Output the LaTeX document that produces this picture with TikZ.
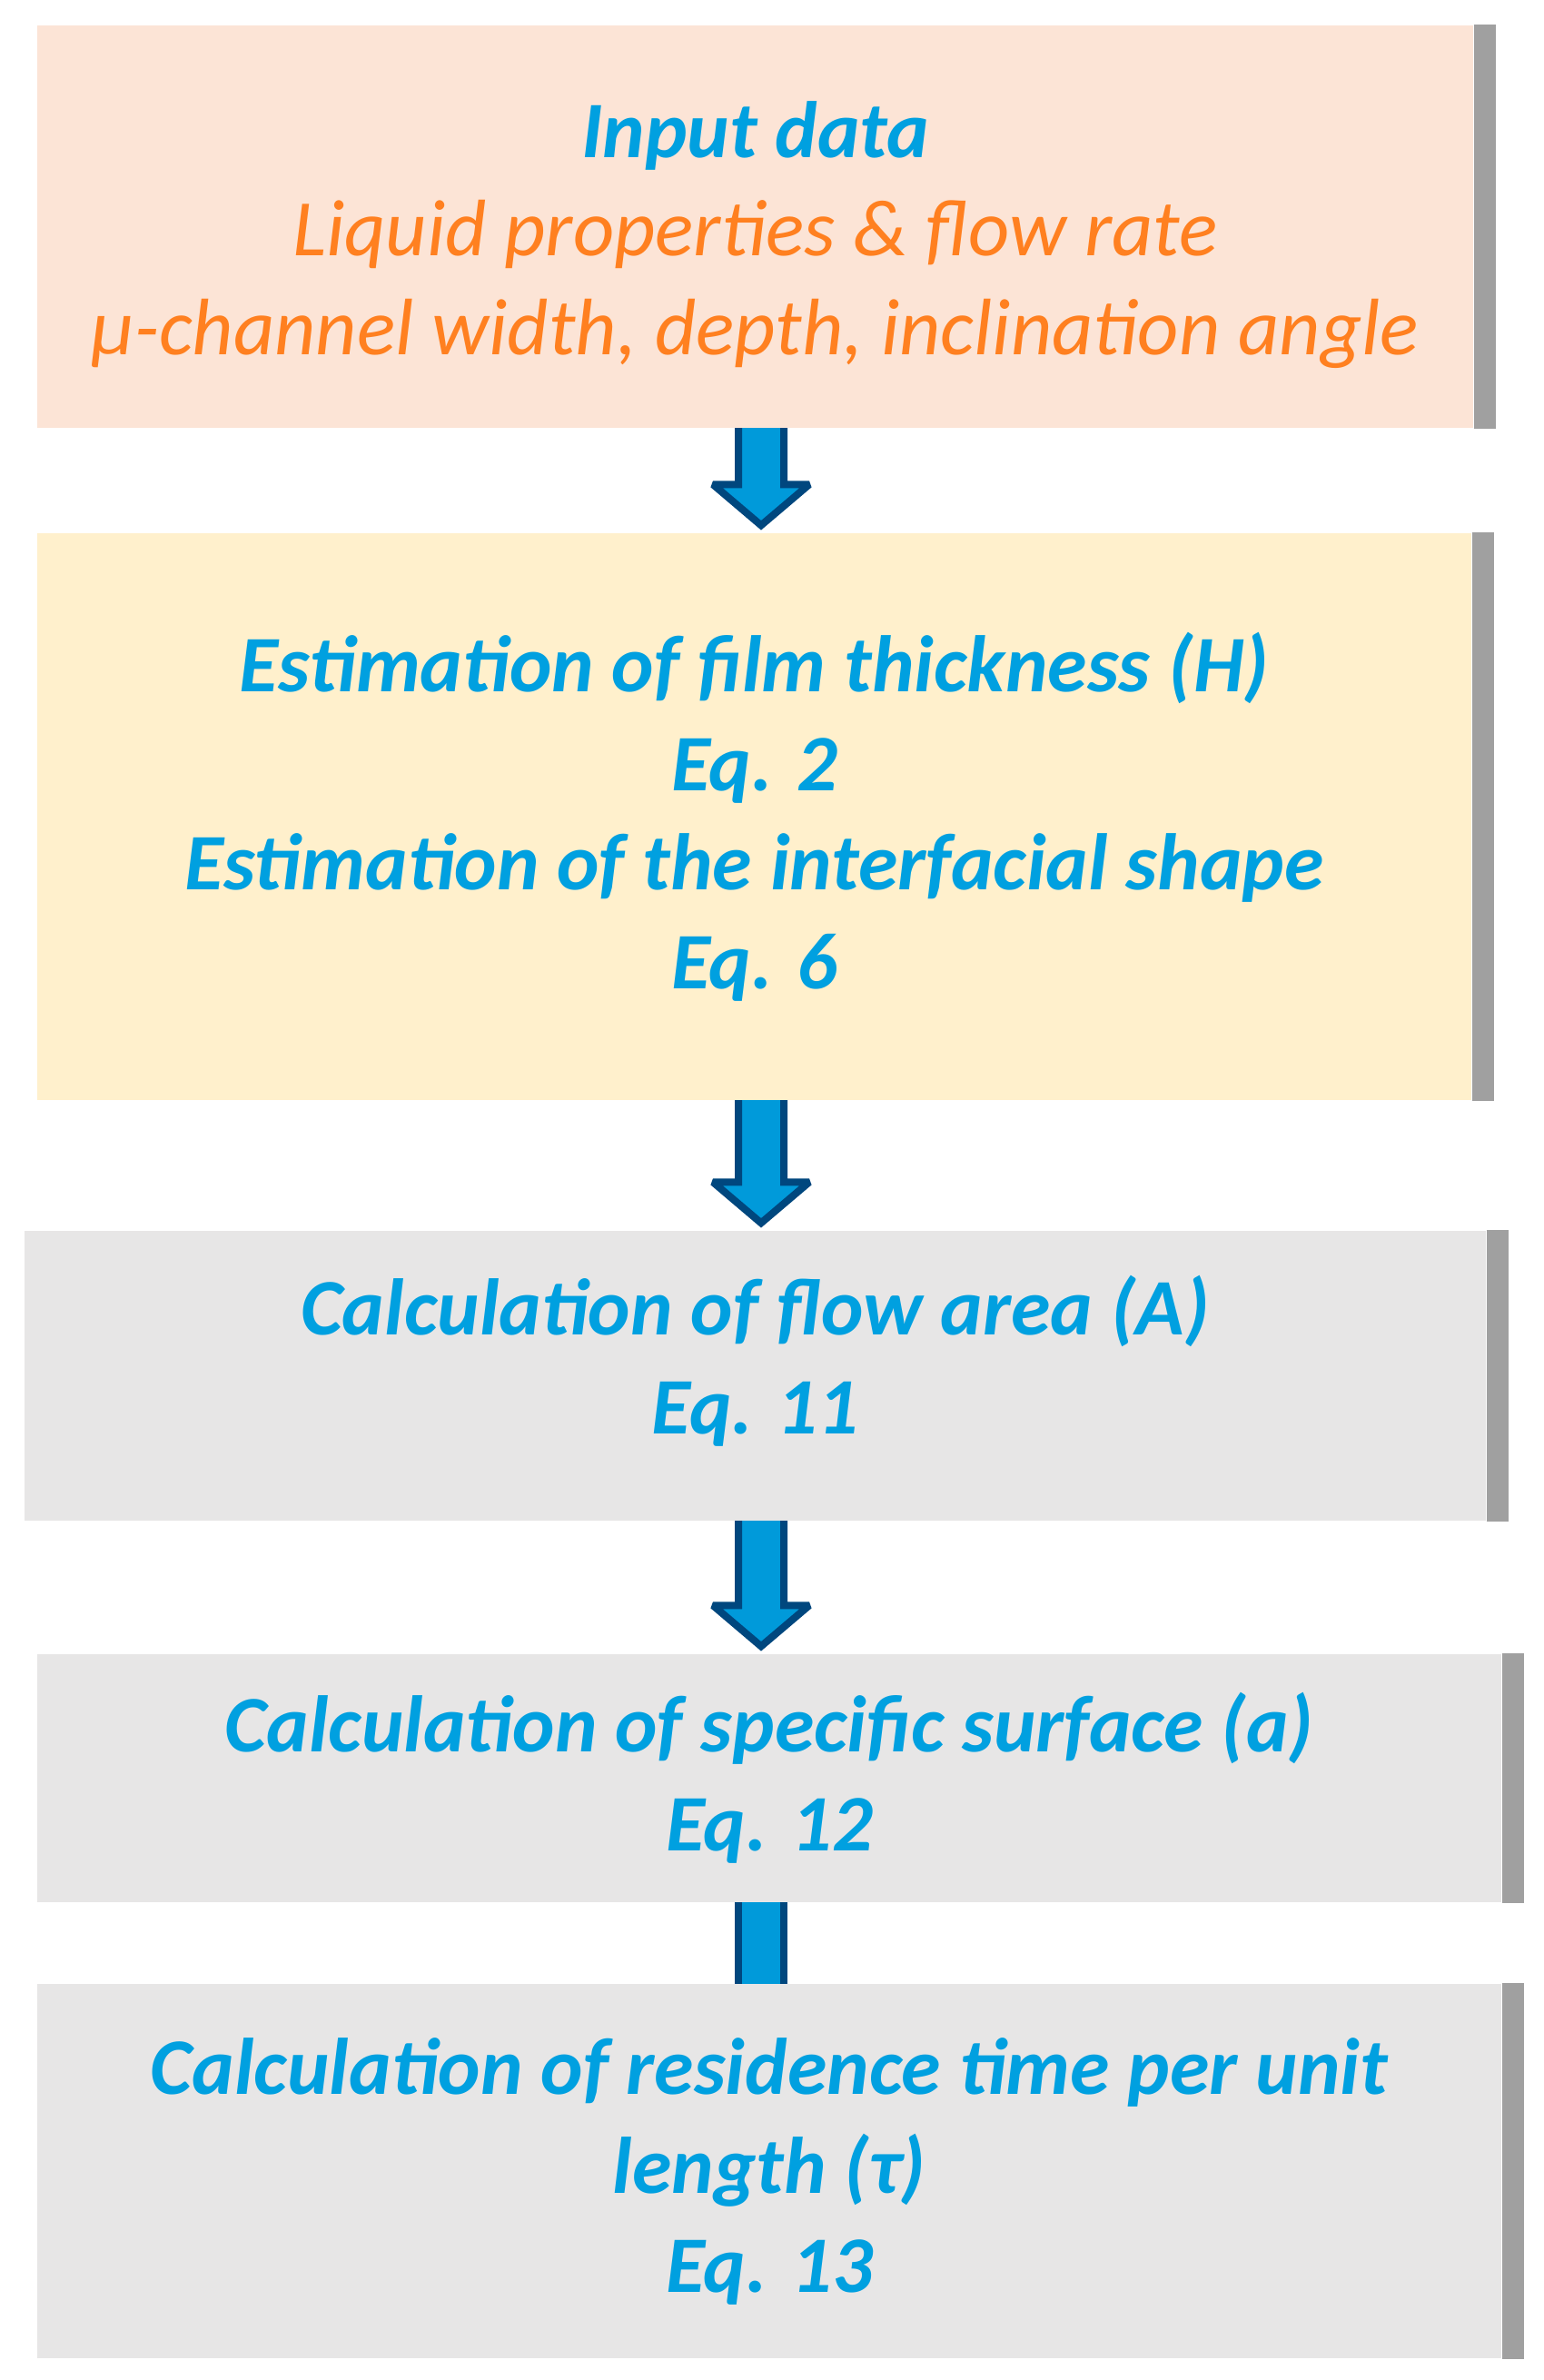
\documentclass[tikz,border=0pt]{standalone}
\usepackage{fontspec}
\setmainfont{Carlito}
\usetikzlibrary{calc,backgrounds}
\definecolor{pinkfill}{HTML}{FCE4D6}
\definecolor{yellowfill}{HTML}{FFF0CC}
\definecolor{greyfill}{HTML}{E7E6E6}
\definecolor{edgegrey}{HTML}{A0A0A0}
\definecolor{textblue}{HTML}{00A0E0}
\definecolor{textorange}{HTML}{FF8020}
\definecolor{arrowfill}{HTML}{009ADA}
\definecolor{arrowline}{HTML}{00477E}
\tikzset{
  stagebox/.style={rectangle,inner sep=0pt,align=center,text=textblue,
    font=\fontsize{25.1}{31}\selectfont\bfseries\itshape},
  shadowedge/.style={fill=edgegrey},
  blockarrow/.style={draw=arrowline,fill=arrowfill,line width=0.08cm,miter limit=2}
}
\newcommand{\orangeline}[1]{{\mdseries\color{textorange}#1}}
% extra depth under the last line, lifts the text by half of it
\newcommand{\lift}[1]{\rule[-#1]{0pt}{#1}}
% block arrow from the box #1 down to the box #2
\newcommand{\flowarrow}[2]{%
  \draw[blockarrow] ($(#1.south -| axis)+(-0.25,0.2)$) -- ($(#2.north -| axis)+(-0.25,0.53)$)
    -- ++(-0.28,0) -- ($(#2.north -| axis)+(0,0.08)$) -- ($(#2.north -| axis)+(0.53,0.53)$)
    -- ++(-0.28,0) -- ($(#1.south -| axis)+(0.25,0.2)$) -- cycle;}

\begin{document}
\begin{tikzpicture}
	\useasboundingbox (0,0) rectangle (16.99,-26.2);
	\coordinate (axis) at (8.38,0);
	
	\node[stagebox,fill=pinkfill,minimum width=15.81cm,minimum height=4.43cm] (input) at (8.315,-2.495)
		{\rule{0pt}{0.8cm}Input data\\ \orangeline{Liquid properties \& flow rate}\\ \orangeline{µ-channel width, depth, inclination angle}};
	\node[stagebox,fill=yellowfill,minimum width=15.79cm,minimum height=6.24cm] (film) at (8.305,-8.99)
		{Estimation of film thickness (H)\\ Eq. 2\\ Estimation of the interfacial shape\\ Eq. 6};
	\node[stagebox,fill=greyfill,minimum width=16.09cm,minimum height=3.19cm] (area) at (8.315,-15.145)
		{Calculation of flow area (A)\\ Eq. 11\lift{0.46cm}};
	\node[stagebox,fill=greyfill,minimum width=16.12cm,minimum height=2.73cm] (surface) at (8.47,-19.575)
		{Calculation of specific surface (a)\\ Eq. 12};
	\node[stagebox,fill=greyfill,minimum width=16.12cm,minimum height=4.12cm] (residence) at (8.47,-23.90)
		{Calculation of residence time per unit\\ length (τ)\\ Eq. 13};
	
	% grey edge on the right of each box
	\foreach \b in {input,film,area,surface,residence}
		\fill[shadowedge] (\b.north east) rectangle ([xshift=0.24cm]\b.south east);
	
	\begin{scope}[on background layer]
		\flowarrow{input}{film}
		\flowarrow{film}{area}
		\flowarrow{area}{surface}
		\draw[blockarrow] ($(surface.south -| axis)+(-0.25,0.2)$) rectangle ($(residence.north -| axis)+(0.25,-0.2)$);
	\end{scope}
\end{tikzpicture}
\end{document}
